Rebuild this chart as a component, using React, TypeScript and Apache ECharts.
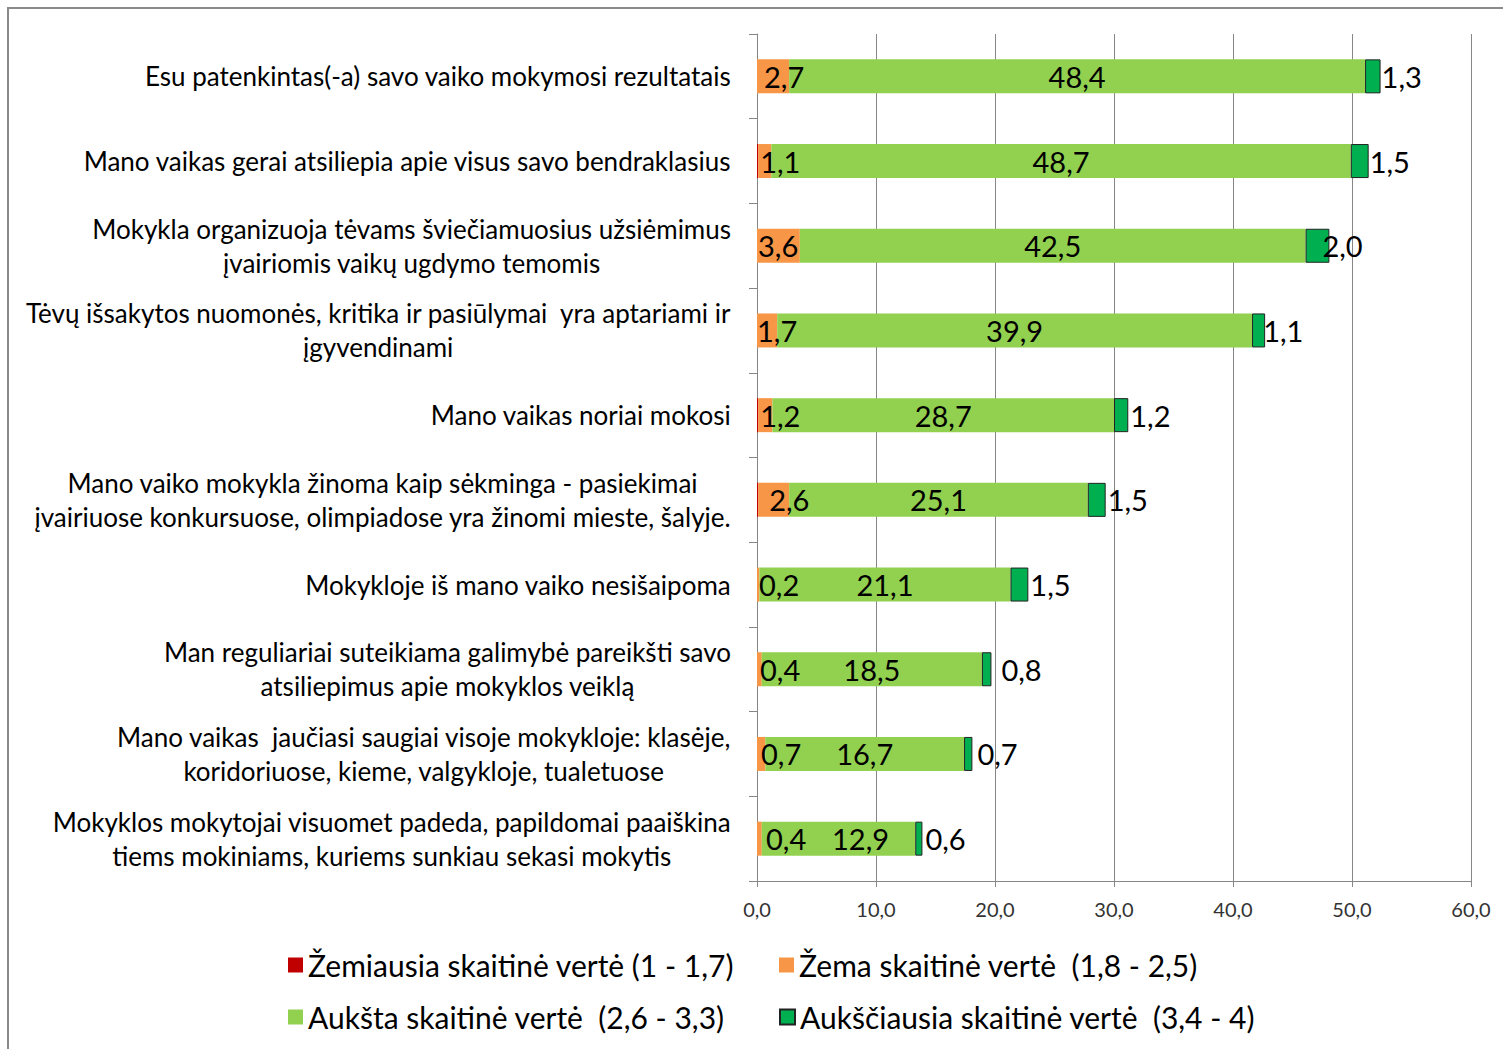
import React, { useEffect, useRef } from "react";
import * as echarts from "echarts";

const categories: string[] = [
  "Esu patenkintas(-a) savo vaiko mokymosi rezultatais",
  "Mano vaikas gerai atsiliepia apie visus savo bendraklasius",
  "Mokykla organizuoja tėvams šviečiamuosius užsiėmimus\nįvairiomis vaikų ugdymo temomis",
  "Tėvų išsakytos nuomonės, kritika ir pasiūlymai  yra aptariami ir\nįgyvendinami",
  "Mano vaikas noriai mokosi",
  "Mano vaiko mokykla žinoma kaip sėkminga - pasiekimai\nįvairiuose konkursuose, olimpiadose yra žinomi mieste, šalyje.",
  "Mokykloje iš mano vaiko nesišaipoma",
  "Man reguliariai suteikiama galimybė pareikšti savo\natsiliepimus apie mokyklos veiklą",
  "Mano vaikas  jaučiasi saugiai visoje mokykloje: klasėje,\nkoridoriuose, kieme, valgykloje, tualetuose",
  "Mokyklos mokytojai visuomet padeda, papildomai paaiškina\ntiems mokiniams, kuriems sunkiau sekasi mokytis",
];

const seriesNames: string[] = [
  "Žemiausia skaitinė vertė (1 - 1,7)",
  "Žema skaitinė vertė  (1,8 - 2,5)",
  "Aukšta skaitinė vertė  (2,6 - 3,3)",
  "Aukščiausia skaitinė vertė  (3,4 - 4)",
];

const lowestValues: number[] = [0, 0.1, 0, 0, 0.1, 0.1, 0, 0, 0, 0];
const lowValues: number[] = [2.7, 1.1, 3.6, 1.7, 1.2, 2.6, 0.2, 0.4, 0.7, 0.4];
const highValues: number[] = [48.4, 48.7, 42.5, 39.9, 28.7, 25.1, 21.1, 18.5, 16.7, 12.9];
const highestValues: number[] = [1.3, 1.5, 2.0, 1.1, 1.2, 1.5, 1.5, 0.8, 0.7, 0.6];

const xTicks = { min: 0, max: 60, interval: 10 };

// label nudges (styling only)
const lowLabelNudge: number[] = [7, 2, 1, 0, 2, 11, 2, 3, 4, 9];
const highLabelNudge: number[] = [0, 0, 0, 0, 0, 0, 0, 0, 0, 22];
const highestLabelNudge: number[] = [-1, -1, -9, -4, 0, 0, 0, 8, 3, 1];

const colors = ["#C00000", "#F79646", "#92D050", "#00B050"];
const FONT = "Lato";
const fmt = (v: number) => v.toFixed(1).replace(".", ",");

export default function App() {
  const ref = useRef<HTMLDivElement>(null);
  useEffect(() => {
    if (!ref.current) return;
    const chart = echarts.init(ref.current, undefined, { renderer: "svg" });

    const labelBase = {
      show: true,
      color: "#000",
      fontFamily: FONT,
      fontSize: 29,
      formatter: (p: any) => fmt(p.value),
    };

    const legendPos = [
      { left: 283, top: 945 },
      { left: 774, top: 945 },
      { left: 283, top: 997 },
      { left: 774, top: 997 },
    ];

    chart.setOption({
      animation: false,
      backgroundColor: "#fff",
      grid: { left: 757, right: 32, top: 34, bottom: 168, containLabel: false },
      graphic: [
        { type: "line", shape: { x1: 7, y1: 8, x2: 1503, y2: 8 }, style: { stroke: "#8a8a8a", lineWidth: 2 } },
        { type: "line", shape: { x1: 8, y1: 7, x2: 8, y2: 1049 }, style: { stroke: "#8a8a8a", lineWidth: 2 } },
      ],
      legend: seriesNames.map((n, i) => ({
        data: [n],
        left: legendPos[i].left,
        top: legendPos[i].top,
        icon: "rect",
        itemWidth: 15,
        itemHeight: 15,
        selectedMode: false,
        textStyle: { fontFamily: FONT, fontSize: 30, color: "#000" },
      })),
      xAxis: {
        type: "value",
        min: xTicks.min,
        max: xTicks.max,
        interval: xTicks.interval,
        axisLine: { show: true, lineStyle: { color: "#868686", width: 1 } },
        axisTick: { show: true, length: 6, lineStyle: { color: "#868686" } },
        splitLine: { show: true, lineStyle: { color: "#868686", width: 1 } },
        axisLabel: {
          margin: 18,
          fontFamily: FONT,
          fontSize: 20,
          color: "#333",
          formatter: (v: number) => fmt(v),
        },
      },
      yAxis: {
        type: "category",
        inverse: true,
        data: categories,
        axisLine: { show: true, lineStyle: { color: "#868686", width: 1 } },
        axisTick: { show: true, length: 8, lineStyle: { color: "#868686" } },
        axisLabel: {
          margin: 26,
          fontFamily: FONT,
          fontSize: 26,
          lineHeight: 34,
          color: "#000",
          formatter: (v: string) =>
            v
              .split("\n")
              .map((l) => `{c|${l}}`)
              .join("\n"),
          rich: {
            c: { align: "center", fontFamily: FONT, fontSize: 26, lineHeight: 34, color: "#000" },
          },
        },
      },
      series: [
        {
          name: seriesNames[0],
          type: "bar",
          stack: "s",
          barWidth: 34,
          itemStyle: { color: colors[0] },
          label: { show: false },
          data: lowestValues,
        },
        {
          name: seriesNames[1],
          type: "bar",
          stack: "s",
          barWidth: 34,
          itemStyle: { color: colors[1] },
          data: lowValues.map((v, i) => ({
            value: v,
            label: { ...labelBase, position: "insideLeft", distance: 0, offset: [lowLabelNudge[i], 0] },
          })),
        },
        {
          name: seriesNames[2],
          type: "bar",
          stack: "s",
          barWidth: 34,
          itemStyle: { color: colors[2] },
          data: highValues.map((v, i) => ({
            value: v,
            label: { ...labelBase, position: "inside", offset: [highLabelNudge[i], 0] },
          })),
        },
        {
          name: seriesNames[3],
          type: "bar",
          stack: "s",
          barWidth: 34,
          itemStyle: { color: colors[3], borderColor: "#222", borderWidth: 1 },
          data: highestValues.map((v, i) => ({
            value: v,
            label: { ...labelBase, position: "right", distance: 2, offset: [highestLabelNudge[i], 0] },
          })),
        },
      ],
    });
    return () => chart.dispose();
  }, []);
  return (
    <div
      ref={ref}
      style={{ position: "fixed", left: 0, top: 0, width: 1503, height: 1049, background: "#fff" }}
    />
  );
}
